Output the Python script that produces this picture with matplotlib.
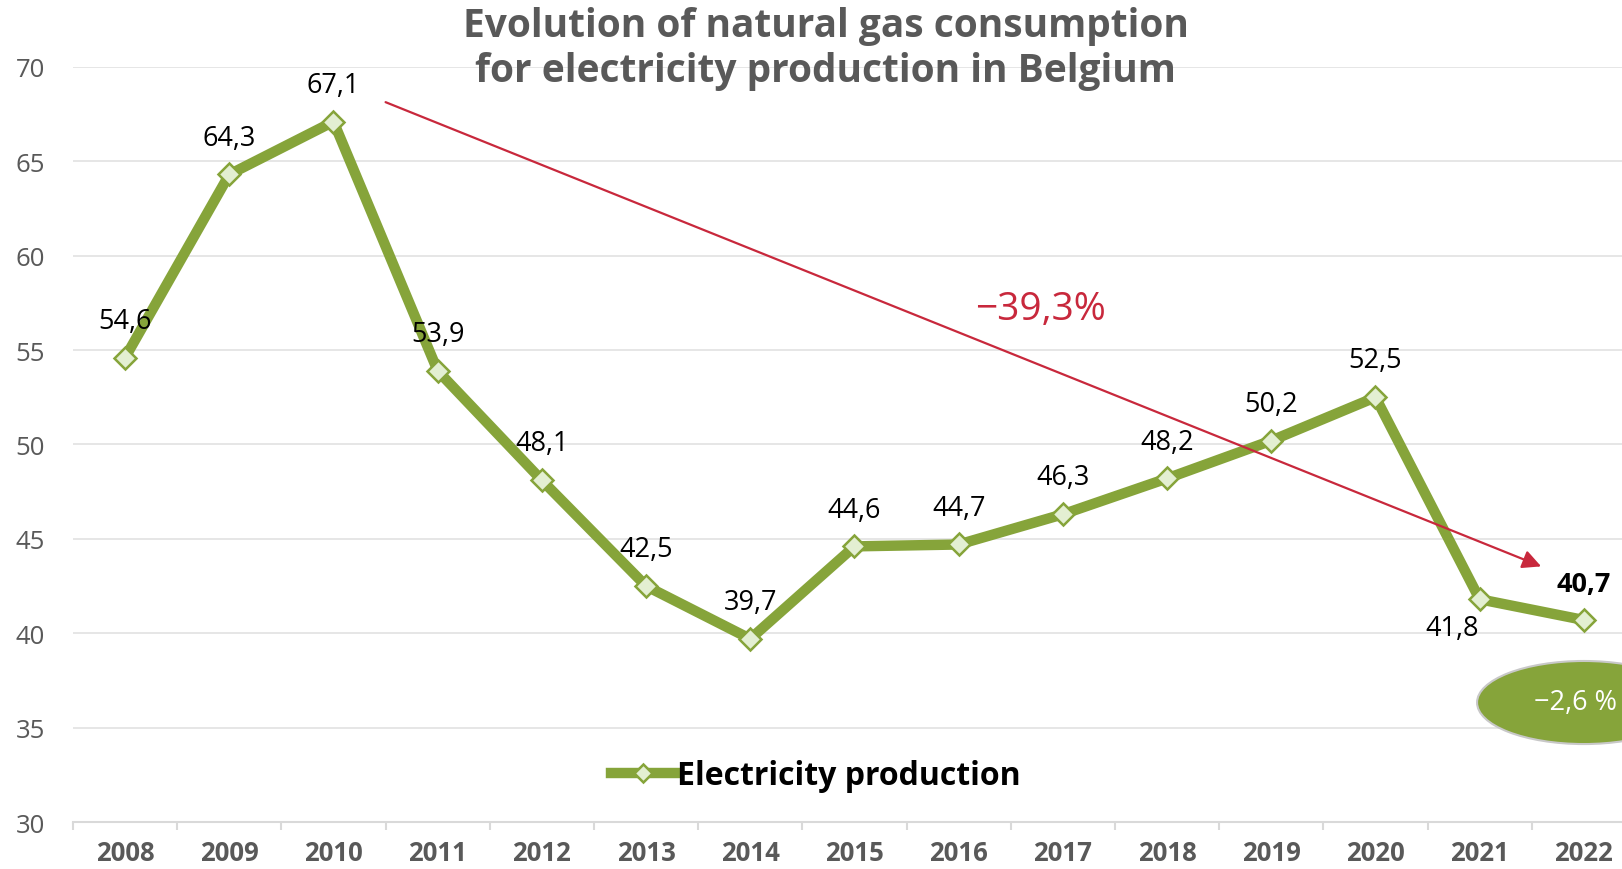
import numpy as np
import matplotlib
matplotlib.use("Agg")
import matplotlib.pyplot as plt
from matplotlib.patches import Ellipse

years = ["2008", "2009", "2010", "2011", "2012", "2013", "2014", "2015",
         "2016", "2017", "2018", "2019", "2020", "2021", "2022"]
consumption = [54.6, 64.3, 67.1, 53.9, 48.1, 42.5, 39.7, 44.6,
               44.7, 46.3, 48.2, 50.2, 52.5, 41.8, 40.7]
series_name = "Electricity production"
trend_label = "\u221239,3%"
last_change_label = "\u22122,6 %"

green = "#86A43A"
marker_face = "#E3EFD2"
red = "#C8283C"
grey_text = "#595959"

plt.rcParams['font.family'] = ['Open Sans', 'DejaVu Sans']

fig = plt.figure(figsize=(16.22, 8.7), dpi=100)
# plot area runs past the right edge of the picture, as in the original
ax = fig.add_axes([0.045, 0.054, 0.9636, 0.868])

x = np.arange(len(years))
ax.plot(x, consumption, color=green, lw=7.5, marker="D", markersize=11.5,
        markerfacecolor=marker_face, markeredgecolor=green, markeredgewidth=1.8,
        solid_joinstyle="miter", label=series_name, zorder=3)

# data labels
for i, v in enumerate(consumption):
    txt = f"{v:.1f}".replace(".", ",")
    if i == len(years) - 2:
        ax.text(i - 0.26, v - 1.5, txt, ha="center", va="center",
                fontsize=19.5, color="black")
    elif i == len(years) - 1:
        ax.text(i, v + 1.9, txt, ha="center", va="center",
                fontsize=19.5, color="black", fontweight="bold")
    else:
        ax.text(i, v + 1.95, txt, ha="center", va="center",
                fontsize=19.5, color="black")

# trend arrow
ax.annotate("", xy=(13.59, 43.54), xytext=(2.5, 68.13),
            arrowprops=dict(arrowstyle="-|>", color=red, lw=1.6,
                            mutation_scale=28, shrinkA=0, shrinkB=0),
            zorder=4)
ax.text(8.78, 57.2, trend_label, color=red, fontsize=28,
        ha="center", va="center")

# green bubble for last year change
ell = Ellipse((14.0, 36.33), 2.05, 4.4, facecolor=green, edgecolor="#C8C8C8",
              lw=1.5, clip_on=False, zorder=5)
ax.add_patch(ell)
fig.text(0.997, 0.192, last_change_label, color="white", fontsize=19.5,
         ha="right", va="center", zorder=6)

ax.set_xlim(-0.5, len(years) - 0.5)
ax.set_ylim(30, 70)
ax.set_yticks(np.arange(30, 71, 5))
ax.set_xticks(x)
ax.set_xticklabels(years, fontweight="bold")
ax.set_xticks(np.arange(-0.5, len(years), 1), minor=True)

ax.grid(axis="y", color="#E4E4E4", lw=1.3)
ax.set_axisbelow(True)
for s in ["top", "right", "left"]:
    ax.spines[s].set_visible(False)
ax.spines["bottom"].set_color("#D9D9D9")
ax.spines["bottom"].set_linewidth(1.5)

ax.tick_params(axis="y", length=0, labelsize=18.5, labelcolor=grey_text, pad=20)
ax.tick_params(axis="x", which="major", length=0, labelsize=18.5,
               labelcolor=grey_text, pad=12)
ax.tick_params(axis="x", which="minor", length=6, width=1.5, color="#D9D9D9")

fig.text(0.509, 0.9575, "Evolution of natural gas consumption",
         ha="center", va="baseline", fontsize=28, fontweight="bold", color=grey_text)
fig.text(0.509, 0.9057, "for electricity production in Belgium",
         ha="center", va="baseline", fontsize=28, fontweight="bold", color=grey_text)

leg = ax.legend(loc="center", bbox_to_anchor=(0.503, 0.107), bbox_transform=fig.transFigure,
                frameon=False, handlelength=2.0, handletextpad=0.05,
                prop={"size": 23, "weight": "bold"})
leg.legend_handles[0].set_markersize(9)

fig.savefig("out.png", dpi=100)
